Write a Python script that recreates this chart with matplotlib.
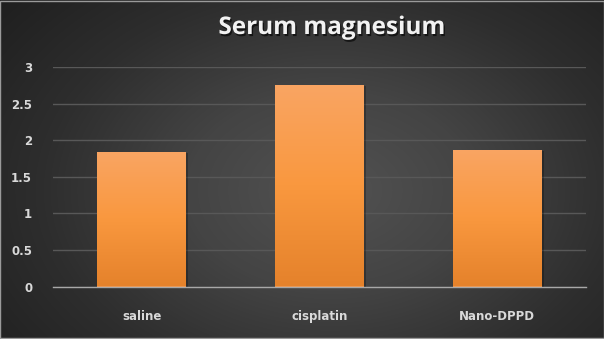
import numpy as np
import matplotlib
matplotlib.use("Agg")
import matplotlib.pyplot as plt
import matplotlib.patheffects as pe
from matplotlib.colors import LinearSegmentedColormap
from matplotlib.patches import Rectangle

categories = ["saline", "cisplatin", "Nano-DPPD"]
values = [1.84, 2.75, 1.86]
yticks = [0, 0.5, 1, 1.5, 2, 2.5, 3]
yticklabels = ["0", "0.5", "1", "1.5", "2", "2.5", "3"]
title = "Serum magnesium"

W, H = 604, 339
fig = plt.figure(figsize=(W / 100, H / 100), dpi=100)

# radial gradient background
bg = fig.add_axes([0, 0, 1, 1], zorder=0)
yy, xx = np.mgrid[0:H, 0:W]
cx, cy = 330, 190
r = np.sqrt(((xx - cx) / 330.0) ** 2 + ((yy - cy) / 230.0) ** 2)
r = np.clip(r, 0, 1.3) / 1.3
bgcmap = LinearSegmentedColormap.from_list("bg", ["#525252", "#444444", "#2e2e2e", "#1f1f1f"])
bg.imshow(r, cmap=bgcmap, aspect="auto", extent=[0, 1, 0, 1], origin="upper", vmin=0, vmax=1)
bg.set_xlim(0, 1); bg.set_ylim(0, 1)
bg.axis("off")
bg.add_patch(Rectangle((0.0008, 0.0015), 0.9984, 0.997, fill=False, ec="#9a9a9a", lw=1.0,
                       transform=bg.transAxes))

ax = fig.add_axes([53 / W, 52.5 / H, (586 - 53) / W, (286.5 - 67) / H], zorder=1)
ax.patch.set_alpha(0)
x = np.arange(len(categories))
bars = ax.bar(x, values, width=0.5, color="#F79646", zorder=2,
              path_effects=[pe.SimplePatchShadow(offset=(1.5, -0.5), shadow_rgbFace="black", alpha=0.25),
                            pe.Normal()])
barcmap = LinearSegmentedColormap.from_list("bar", ["#FAA563", "#F9983F", "#E5822B"])
grad = np.linspace(0, 1, 256).reshape(-1, 1)
for b in bars:
    x0, y0 = b.get_x(), b.get_y()
    w, h = b.get_width(), b.get_height()
    im = ax.imshow(grad, cmap=barcmap, aspect="auto", extent=[x0, x0 + w, y0, y0 + h],
                   origin="upper", zorder=3)
    im.set_clip_path(b)

ax.set_xlim(-0.5, len(categories) - 0.5)
ax.set_ylim(0, 3)
ax.set_yticks(yticks)
ax.set_yticklabels(yticklabels)
ax.set_xticks(x)
ax.set_xticklabels(categories)
ax.yaxis.grid(True, color="#585858", lw=1.0, zorder=1)
ax.set_axisbelow(True)
for s in ["top", "right", "left"]:
    ax.spines[s].set_visible(False)
ax.spines["bottom"].set_color("#a8a8a8")
ax.spines["bottom"].set_linewidth(1.0)
ax.spines["bottom"].set_zorder(4)
ax.tick_params(axis="both", length=0, colors="#d9d9d9")
ax.tick_params(axis="y", pad=15)
ax.tick_params(axis="x", pad=17)
for lab in ax.get_yticklabels() + ax.get_xticklabels():
    lab.set_fontsize(8.5)
    lab.set_fontweight("bold")
    lab.set_color("#d9d9d9")

fig.text(0.549, 1 - 28 / H, title, ha="center", va="center", fontsize=17.5, fontweight="bold",
         color="#f2f2f2", family="Open Sans",
         path_effects=[pe.withSimplePatchShadow(offset=(1, -1.5), shadow_rgbFace="black", alpha=0.6)])

fig.savefig("out.png", dpi=100)
